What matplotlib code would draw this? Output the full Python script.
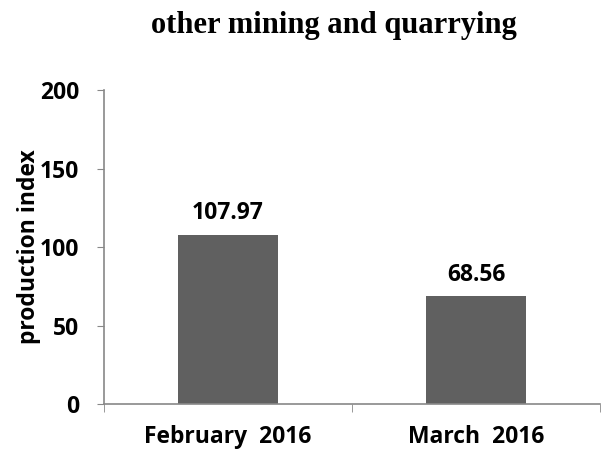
import matplotlib.pyplot as plt

categories = ['February  2016', 'March  2016']
values = [107.97, 68.56]
value_labels = ['107.97', '68.56']
yticks = [0, 50, 100, 150, 200]

plt.rcParams['font.family'] = ['Open Sans', 'DejaVu Sans']

fig = plt.figure(figsize=(6.02, 4.55), dpi=100)
ax = fig.add_axes([0.1728, 0.112, 0.824, 0.690])

x = list(range(len(categories)))
ax.bar(x, values, width=0.4, color='#606060')

for xi, v, lab in zip(x, values, value_labels):
    ax.annotate(lab, (xi, v), xytext=(0, 7), textcoords='offset points',
                ha='center', va='bottom', fontsize=16.5, fontweight='bold')

ax.set_xlim(-0.5, 1.5)
ax.set_ylim(0, 200)
ax.set_yticks(yticks)
ax.set_yticklabels([str(t) for t in yticks], fontsize=16.5, fontweight='bold')
ax.set_xticks(x)
ax.set_xticklabels(categories, fontsize=16.5, fontweight='bold')
ax.tick_params(axis='x', length=0, pad=15)
ax.set_xticks([-0.5, 0.5, 1.5], minor=True)
ax.tick_params(axis='x', which='minor', length=6, color='#888888')
ax.tick_params(axis='y', length=5, color='#888888', pad=13)

for s in ['top', 'right']:
    ax.spines[s].set_visible(False)
for s in ['left', 'bottom']:
    ax.spines[s].set_color('#888888')
    ax.spines[s].set_linewidth(1.2)

ax.set_ylabel('production index', fontsize=16.5, fontweight='bold', labelpad=-1)
fig.text(0.555, 0.943, 'other mining and quarrying', ha='center', va='center',
         fontsize=22, fontweight='bold', family='Liberation Serif')

fig.savefig('out.png', dpi=100)
